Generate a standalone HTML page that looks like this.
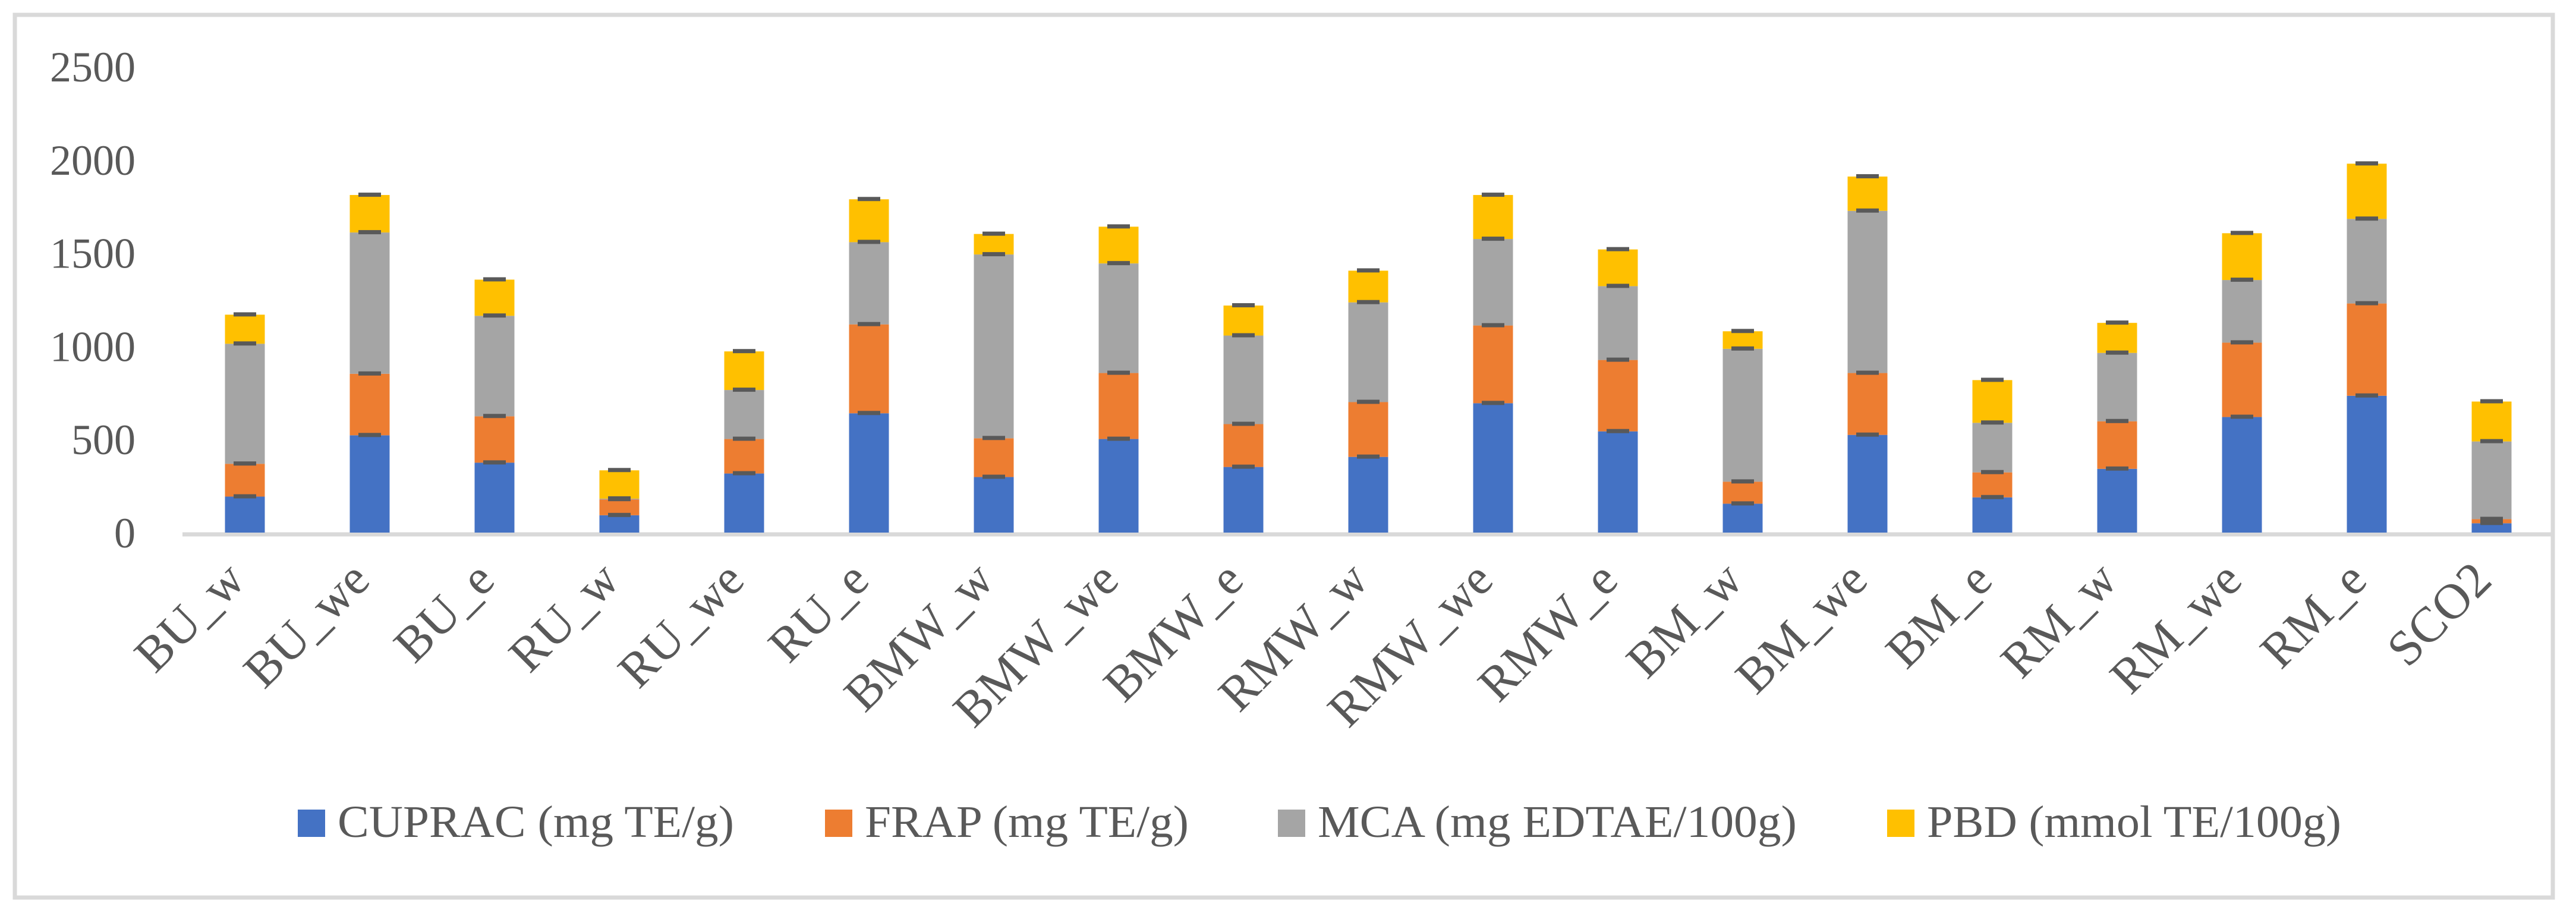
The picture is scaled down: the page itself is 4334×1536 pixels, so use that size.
<!DOCTYPE html>
<html><head><meta charset="utf-8"><style>
html,body{margin:0;padding:0;background:#fff;}
svg{display:block;}
text{font-family:"Liberation Serif",serif;fill:#595959;}
</style></head><body>
<svg id="chart" width="4334" height="1536" viewBox="0 0 4334 1536" xmlns="http://www.w3.org/2000/svg">
<rect x="25" y="25" width="4270" height="1485" fill="#fff" stroke="#D9D9D9" stroke-width="7"/>
<g id="grid"></g>
<g id="bars"></g>
<g id="xlabels"></g>
<g id="legend"></g>
</svg>
<script>
const categories = ["BU_w","BU_we","BU_e","RU_w","RU_we","RU_e","BMW_w","BMW_we","BMW_e","RMW_w","RMW_we","RMW_e","BM_w","BM_we","BM_e","RM_w","RM_we","RM_e","SCO2"];
const cuprac = [193,522,375,93,317,640,298,502,352,406,694,543,155,524,189,342,620,734,50];
const frap   = [176,330,249,85,185,477,208,354,230,294,417,383,118,332,134,255,399,495,22];
const mca    = [644,758,539,4,263,441,986,588,475,535,464,396,713,870,266,367,336,454,417];
const pbd    = [156,201,194,152,207,230,110,197,161,170,236,197,94,184,229,161,251,296,214];
const yTicks = [0,500,1000,1500,2000,2500];
const seriesNames = ["CUPRAC (mg TE/g)","FRAP (mg TE/g)","MCA (mg EDTAE/100g)","PBD (mmol TE/100g)"];

const NS="http://www.w3.org/2000/svg";
const colors=["#4472C4","#ED7D31","#A5A5A5","#FFC000"];
const plotL=307, plotR=4297, y0=896, yTop=112, yMax=2500;
const bw=(plotR-plotL)/categories.length, barW=67;
function y(v){return y0-(v/yMax)*(y0-yTop);}
function xc(i){return plotL+bw*(i+0.5);}
function mk(tag,attrs,parent){const e=document.createElementNS(NS,tag);for(const k in attrs)e.setAttribute(k,attrs[k]);parent.appendChild(e);return e;}

const grid=document.getElementById('grid');
yTicks.forEach(t=>{
  const tx=mk('text',{x:228,y:y(t)+25,'text-anchor':'end','font-size':72},grid);
  
  
  tx.textContent=t;
});
const ax=mk('line',{x1:plotL,x2:plotR-5,y1:y0+3,y2:y0+3,stroke:'#D9D9D9','stroke-width':7},grid);



const bars=document.getElementById('bars');
const series=[cuprac,frap,mca,pbd];
categories.forEach((c,i)=>{
  let base=0;
  const tops=[];
  series.forEach((s,k)=>{
    const v=s[i];
    const r=mk('rect',{x:xc(i)-barW/2,y:y(base+v),width:barW,height:y(base)-y(base+v),fill:colors[k]},bars);
    
    
    base+=v; tops.push(base);
  });
  tops.forEach(t=>{
    const e=mk('rect',{x:xc(i)-19,y:y(t)-4,width:38,height:7,fill:'#595959'},bars);
    
    
  });
});

const xl=document.getElementById('xlabels');
categories.forEach((c,i)=>{
  const px=xc(i)+4, py=980;
  const t=mk('text',{x:px,y:py,'text-anchor':'end','font-size':84,transform:`rotate(-45 ${px} ${py})`},xl);
  
  
  t.textContent=c;
});

const lg=document.getElementById('legend');
const lx=[501,1388,2150,3175], lw=[667,545,806,697];
seriesNames.forEach((n,k)=>{
  const g=mk('g',{},lg);
  
  
  mk('rect',{x:lx[k],y:1362,width:46,height:46,fill:colors[k]},g);
  const t=mk('text',{x:lx[k]+67,y:1408,'font-size':76,textLength:lw[k],lengthAdjust:'spacingAndGlyphs'},g);
  t.textContent=n;
});
</script>
</body></html>
